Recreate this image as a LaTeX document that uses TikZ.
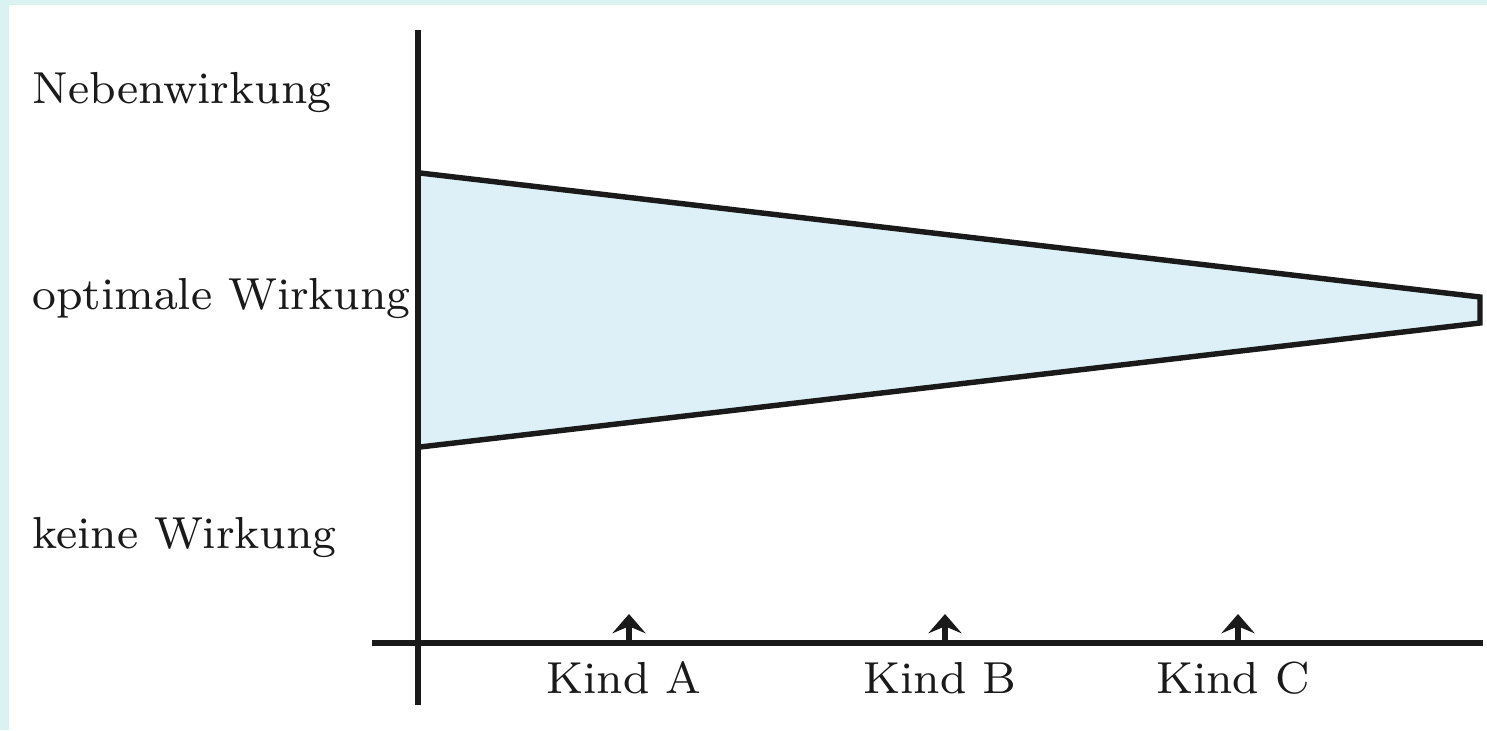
\documentclass[tikz,border=0pt]{standalone}
\usepackage{xcolor,tikz,graphicx}
\usetikzlibrary{positioning,calc,arrows.meta}
\definecolor{doseFrame}{HTML}{DBF3F0}
\definecolor{doseFill}{HTML}{DDF0F8}
\definecolor{doseLine}{HTML}{1A1A1A}
% small optical size, blown up: wider and heavier letters
\newcommand\dosetext[1]{\scalebox{3.19}{\fontsize{8}{9}\selectfont #1}}
\tikzset{
  axis line/.style={
    line width=3.1pt, color=doseLine,
  },
  band line/.style={
    line width=3.1pt, color=doseLine, line join=miter,
  },
  kind arrow/.style={
    -{Stealth[length=11pt, width=19pt, inset=4pt]},
    line width=3.1pt, color=doseLine,
  },
  level label/.style={
    anchor=base west, inner sep=0pt, text=doseLine,
  },
  kind label/.style={
    anchor=base, inner sep=0pt, text=doseLine,
  },
}

\begin{document}
\begin{tikzpicture}[x=0.02cm, y=-0.02cm]

% --- FRAME ---
\useasboundingbox (0,0) rectangle (1487,730);
\fill[doseFrame] (0,0) rectangle (1487,730);
\fill[white] (9,5) rectangle (1487,730);

% --- AXES ---
\coordinate (yTop) at (418,30);
\coordinate (yBot) at (418,705);
\coordinate (xLeft) at (372,643);
\coordinate (xRight) at (1483,643);

% --- WIRKUNGSBEREICH ---
\coordinate (bandTL) at (420,173);
\coordinate (bandBL) at (420,447);
\coordinate (bandTR) at (1480,297);
\coordinate (bandBR) at (1480,323);
\filldraw[band line, fill=doseFill]
  (bandTL) -- (bandTR) -- (bandBR) -- (bandBL);

\draw[axis line] (yTop) -- (yBot);
\draw[axis line] (xLeft) -- (xRight);

% --- LEVELS ---
\node[level label] (neben) at (32,103) {\dosetext{Nebenwirkung}};
\node[level label] (optimal) at (32,309) {\dosetext{optimale Wirkung}};
\node[level label] (keine) at (32,548) {\dosetext{keine Wirkung}};

% --- KINDER ---
\foreach \kidx/\kx/\kname in {1/629/A, 2/945/B, 3/1238/C} {
  \coordinate (kfoot\kidx) at (\kx,643);
  \coordinate (ktip\kidx) at (\kx,614);
  \draw[kind arrow] (kfoot\kidx) -- (ktip\kidx);
  \node[kind label] (kind\kidx) at (\kx - 5,693) {\dosetext{Kind \kname}};
}

\end{tikzpicture}
\end{document}
